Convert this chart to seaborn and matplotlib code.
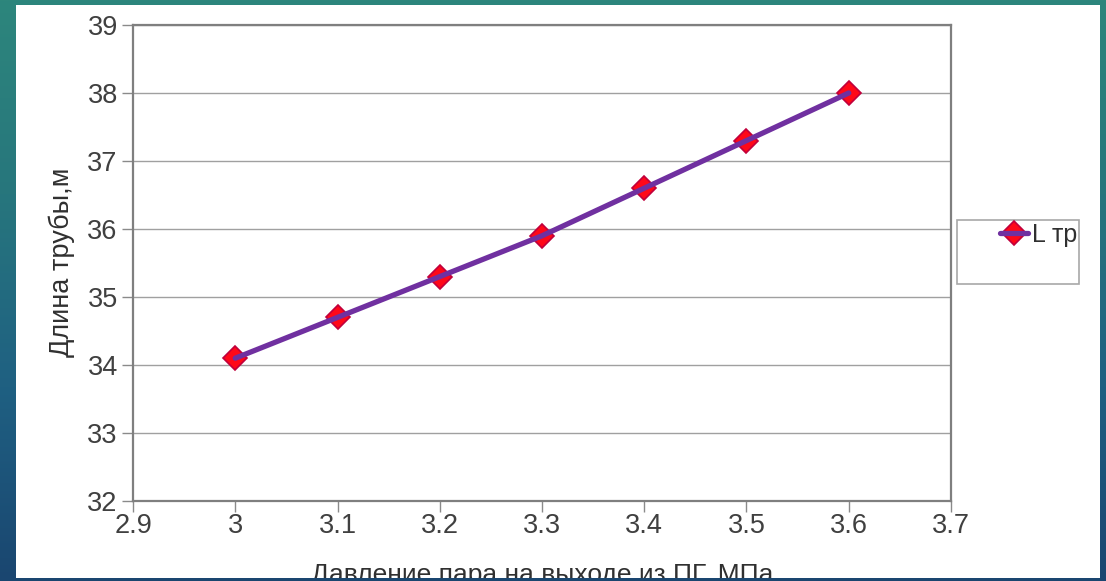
import numpy as np
import pandas as pd
import matplotlib
matplotlib.use("Agg")
import matplotlib.pyplot as plt
import seaborn as sns
from matplotlib.patches import Rectangle
from matplotlib.transforms import Bbox
from matplotlib.colors import LinearSegmentedColormap
from matplotlib.legend_handler import HandlerTuple

# Data
pressure = [3.0, 3.1, 3.2, 3.3, 3.4, 3.5, 3.6]
pipe_length = [34.1, 34.7, 35.3, 35.9, 36.6, 37.3, 38.0]
x_ticks = [2.9, 3.0, 3.1, 3.2, 3.3, 3.4, 3.5, 3.6, 3.7]
x_tick_labels = ["2.9", "3", "3.1", "3.2", "3.3", "3.4", "3.5", "3.6", "3.7"]
y_ticks = [32, 33, 34, 35, 36, 37, 38, 39]
series_name = "L тр"
x_title = "Давление пара на выходе из ПГ, МПа"
y_title = "Длина трубы,м"

df = pd.DataFrame({"p": pressure, "L": pipe_length})

sns.set_theme(style="white")
plt.rcParams["font.family"] = ["Liberation Sans", "DejaVu Sans"]

W, H = 1106, 581
fig = plt.figure(figsize=(W / 100, H / 100), dpi=100)

# gradient backdrop behind the white sheet
bg = fig.add_axes([0, 0, 1, 1], zorder=-10)
grad = np.linspace(0, 1, 256).reshape(-1, 1)
cmap = LinearSegmentedColormap.from_list(
    "bg", ["#2d867c", "#27767d", "#1f6082", "#1a4670"])
bg.imshow(grad, aspect="auto", cmap=cmap, extent=[0, 1, 0, 1], origin="upper")
bg.axis("off")

# white sheet
fig.add_artist(Rectangle((16 / W, 3 / H), (1100 - 16) / W, (578 - 5) / H,
                         transform=fig.transFigure, facecolor="white",
                         edgecolor="none", zorder=-5))

# legend frame (the entry sits in its upper part)
fig.add_artist(Rectangle((957 / W, (581 - 284) / H), 122 / W, 64 / H,
                         transform=fig.transFigure, facecolor="white",
                         edgecolor="#a8a8a8", linewidth=1.2, zorder=-4))

ax = fig.add_axes([133 / W, 80 / H, 818 / W, 476 / H])
ax.set_facecolor("white")

line_color = "#7030a0"
# diamonds first, then the line drawn over them
sns.lineplot(data=df, x="p", y="L", ax=ax, linestyle="none",
             marker="D", markersize=12.5, markerfacecolor="#ff0818",
             markeredgecolor="#c0003c", markeredgewidth=1.2, zorder=3,
             legend=False)
sns.lineplot(data=df, x="p", y="L", ax=ax, color=line_color, linewidth=3.8,
             zorder=4, legend=False)
marker_handle, line_handle = ax.get_lines()[0], ax.get_lines()[1]

ax.set_xlim(2.9, 3.7)
ax.set_ylim(32, 39)
ax.set_xticks(x_ticks)
ax.set_xticklabels(x_tick_labels)
ax.set_yticks(y_ticks)

ax.yaxis.grid(True, color="#a0a0a0", linewidth=1.0)
ax.xaxis.grid(False)
ax.set_axisbelow(True)

for s in ax.spines.values():
    s.set_visible(True)
    s.set_color("#7f7f7f")
    s.set_linewidth(1.6)

ax.tick_params(axis="both", which="major", direction="out", length=8,
               width=1, color="#8a8a8a", labelsize=19.5, labelcolor="#404040",
               bottom=True, left=True)
ax.tick_params(axis="y", pad=3)
ax.tick_params(axis="x", pad=0.5)

ax.set_ylabel(y_title, fontsize=19.5, color="#303030", va="center")
ax.yaxis.set_label_coords((62 - 133) / 818, (501 - 262) / 476)

ax.set_xlabel(x_title, fontsize=19, color="#303030", va="baseline")
ax.xaxis.set_label_coords(0.5, (501 - 582) / 476)
ax.xaxis.label.set_clip_box(Bbox.from_extents(16, 3, 1100, 576))
ax.xaxis.label.set_clip_on(True)

ax.legend([(marker_handle, line_handle)], [series_name], loc="center left",
          bbox_to_anchor=(1000 / W, (581 - 235) / H),
          bbox_transform=fig.transFigure, frameon=False, borderpad=0,
          borderaxespad=0, handlelength=1.1, handletextpad=0.2,
          fontsize=18, labelcolor="#303030",
          handler_map={tuple: HandlerTuple(ndivide=1)})

fig.savefig("out.png", dpi=100)
